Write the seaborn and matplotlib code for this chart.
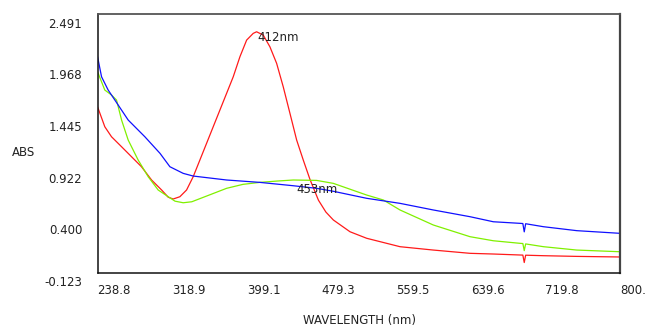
import matplotlib
matplotlib.use("Agg")
import matplotlib.pyplot as plt
import matplotlib.transforms as mtransforms
import seaborn as sns
import pandas as pd

# absorbance spectra
red_wl = [238.8, 246.6, 253.8, 264.6, 275.3, 286.0, 296.8, 307.6, 314.7, 320.0,
          327.2, 334.4, 341.5, 348.7, 355.9, 363.0, 370.2, 377.4, 384.5, 391.7,
          398.9, 406.0, 409.6, 416.7, 423.9, 431.1, 438.2, 445.4, 452.6, 459.7,
          466.9, 476.0, 484.0, 492.0, 509.9, 527.8, 563.6, 599.4, 638.8, 663.8,
          692.5, 695.5, 697.0, 698.5, 717.6, 753.4, 800.0]
red_abs = [1.554, 1.352, 1.251, 1.150, 1.049, 0.948, 0.814, 0.713, 0.640, 0.622,
           0.645, 0.713, 0.847, 1.016, 1.185, 1.352, 1.521, 1.690, 1.857, 2.060,
           2.228, 2.296, 2.312, 2.279, 2.160, 1.993, 1.756, 1.488, 1.218, 1.016,
           0.820, 0.610, 0.490, 0.410, 0.291, 0.225, 0.140, 0.106, 0.073, 0.066,
           0.056, 0.055, -0.020, 0.054, 0.049, 0.042, 0.036]

green_wl = [238.8, 246.6, 253.8, 259.2, 264.6, 271.7, 282.4, 293.2, 303.9, 314.7,
            322.0, 330.8, 340.0, 358.7, 377.4, 395.0, 413.0, 431.0, 449.0, 474.0,
            492.0, 527.8, 545.7, 563.6, 599.4, 638.8, 663.8, 692.5, 695.5, 697.0,
            698.5, 717.6, 753.4, 800.0]
green_abs = [1.908, 1.723, 1.673, 1.622, 1.420, 1.218, 1.016, 0.847, 0.713, 0.645,
             0.600, 0.584, 0.594, 0.662, 0.730, 0.770, 0.790, 0.803, 0.814, 0.810,
             0.780, 0.662, 0.612, 0.511, 0.359, 0.241, 0.200, 0.174, 0.172, 0.100,
             0.168, 0.140, 0.106, 0.089]

blue_wl = [238.8, 243.1, 250.2, 257.4, 271.7, 289.6, 305.9, 316.5, 330.8, 341.5,
           377.4, 413.0, 449.0, 474.0, 492.0, 527.8, 563.6, 599.4, 638.8, 663.8,
           692.5, 695.5, 697.0, 698.5, 717.6, 753.4, 800.0]
blue_abs = [2.060, 1.857, 1.723, 1.622, 1.420, 1.251, 1.083, 0.948, 0.881, 0.854,
            0.814, 0.790, 0.756, 0.730, 0.700, 0.629, 0.578, 0.511, 0.443, 0.392,
            0.376, 0.374, 0.290, 0.372, 0.342, 0.302, 0.275]

x_ticks = [238.8, 318.9, 399.1, 479.3, 559.5, 639.6, 719.8, 800.0]
x_labels = ["238.8", "318.9", "399.1", "479.3", "559.5", "639.6", "719.8", "800."]
y_ticks = [-0.123, 0.400, 0.922, 1.445, 1.968, 2.491]
y_labels = ["-0.123", "0.400", "0.922", "1.445", "1.968", "2.491"]

peaks = [("412nm", 410.0, 2.315), ("453nm", 452.6, 0.785)]

sns.set_style("white")
plt.rcParams["font.family"] = ["DejaVu Sans"]

fig = plt.figure(figsize=(6.46, 3.27), dpi=100)
ax = fig.add_axes([0.151, 0.166, 0.809, 0.791])

curves = [(red_wl, red_abs, "#ff1a1a"), (green_wl, green_abs, "#80f000"),
          (blue_wl, blue_abs, "#1010ff")]
for wl, ab, col in curves:
    df = pd.DataFrame({"wl": wl, "abs": ab})
    sns.lineplot(data=df, x="wl", y="abs", ax=ax, color=col, linewidth=0.9,
                 estimator=None, sort=False)

for txt, px, py in peaks:
    ax.text(px, py, txt, ha="left", va="top", fontsize=8.5, color="#222222")

ax.set_xlim(238.8, 800.0)
ax.set_ylim(-0.123, 2.491)
ax.set_xticks(x_ticks)
ax.set_xticklabels(x_labels, ha="left")
ax.set_yticks(y_ticks)
ax.set_yticklabels(y_labels)
ax.tick_params(axis="both", direction="out", length=5, width=1, color="#222222",
               labelsize=8.5, labelcolor="#222222")
ax.tick_params(axis="y", pad=6)
ax.tick_params(axis="x", pad=3)

# labels sit a bit below their y ticks
down = mtransforms.ScaledTranslation(0, -0.085, fig.dpi_scale_trans)
for lab in ax.get_yticklabels():
    lab.set_transform(lab.get_transform() + down)

ax.set_xlabel("")
ax.set_ylabel("")
fig.text(0.018, 0.535, "ABS", fontsize=8.5, color="#222222", va="center", ha="left")
fig.text(0.557, 0.02, "WAVELENGTH (nm)", fontsize=8.5, color="#222222",
         va="center", ha="center")

for side in ["left", "bottom"]:
    ax.spines[side].set_color("#111111")
    ax.spines[side].set_linewidth(1.1)
ax.spines["top"].set_color("#555555")
ax.spines["top"].set_linewidth(1.3)
ax.spines["right"].set_color("#444444")
ax.spines["right"].set_linewidth(1.6)

fig.savefig("out.png", dpi=100)
